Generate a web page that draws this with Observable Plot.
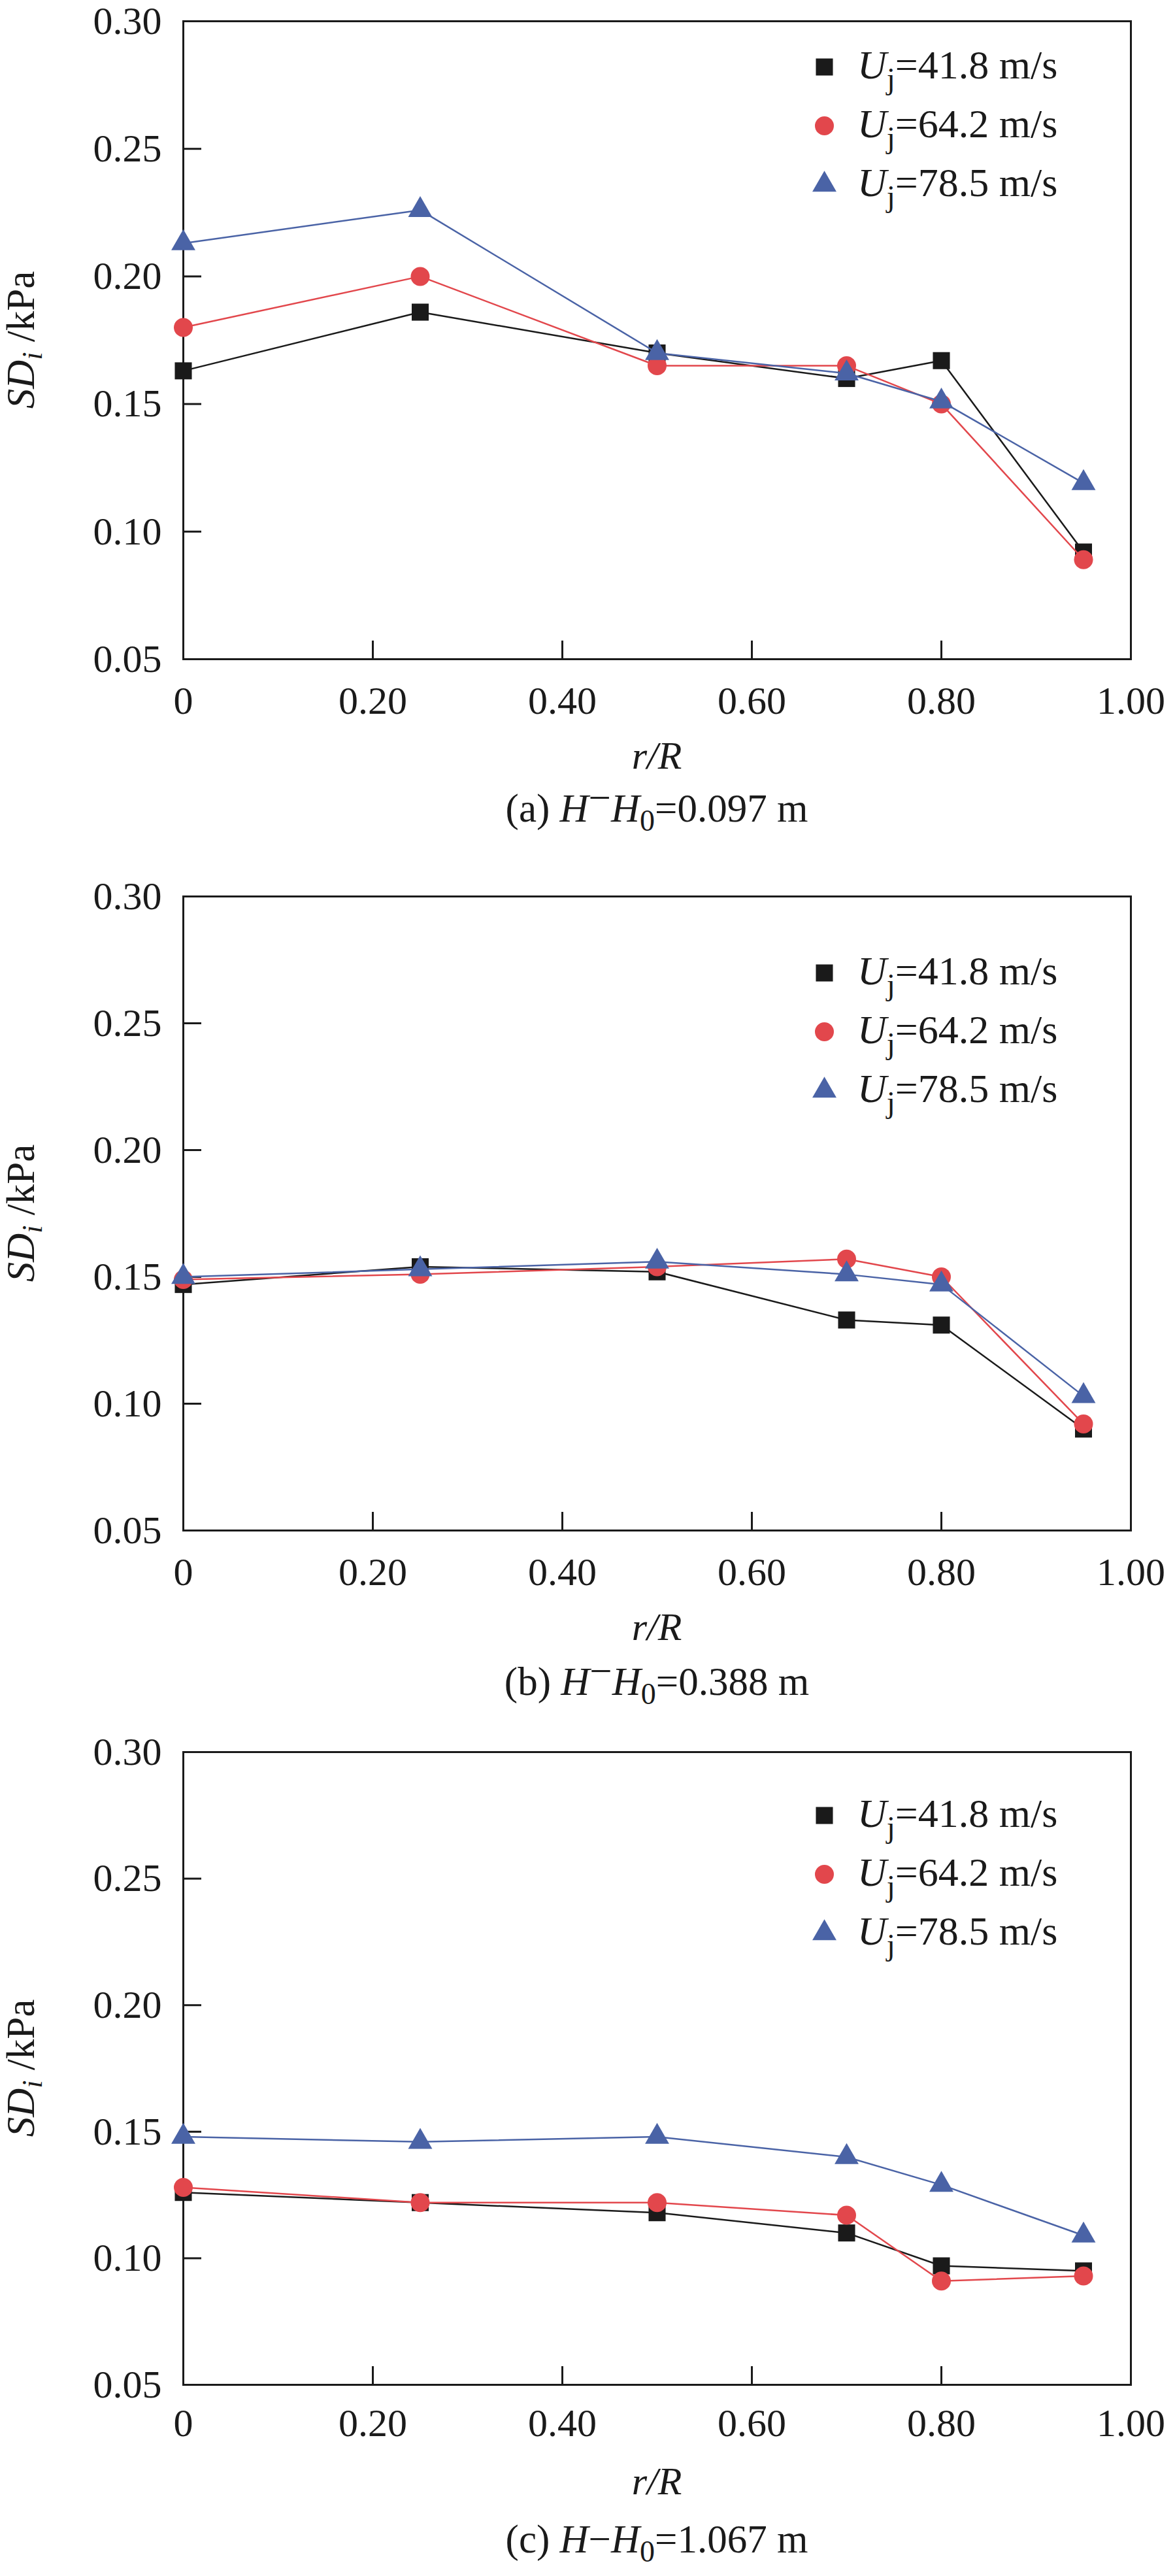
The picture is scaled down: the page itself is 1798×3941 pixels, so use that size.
<!DOCTYPE html>
<html>
<head>
<meta charset="utf-8">
<script src="https://cdn.jsdelivr.net/npm/d3@7"></script>
<script src="https://cdn.jsdelivr.net/npm/@observablehq/plot@0.6"></script>
<style>
  html, body { margin: 0; padding: 0; background: #ffffff; overflow: hidden; }
  #figure { width: 1798px; }
  #figure svg { display: block; max-width: none !important; }
</style>
</head>
<body>
<div id="figure"></div>
<script>
// ---------------- data ----------------
const rR = [0, 0.25, 0.5, 0.7, 0.8, 0.95];
const speeds = ["41.8", "64.2", "78.5"];
const xTicks = [0, 0.2, 0.4, 0.6, 0.8, 1.0];
const yTicks = [0.05, 0.10, 0.15, 0.20, 0.25, 0.30];

// panel (a) H−H0 = 0.097 m
const a_u418 = [0.163, 0.186, 0.170, 0.160, 0.167, 0.092];
const a_u642 = [0.180, 0.200, 0.165, 0.165, 0.150, 0.089];
const a_u785 = [0.213, 0.226, 0.170, 0.162, 0.151, 0.119];
// panel (b) H−H0 = 0.388 m
const b_u418 = [0.147, 0.154, 0.152, 0.133, 0.131, 0.090];
const b_u642 = [0.149, 0.151, 0.154, 0.157, 0.150, 0.092];
const b_u785 = [0.150, 0.153, 0.156, 0.151, 0.147, 0.103];
// panel (c) H−H0 = 1.067 m
const c_u418 = [0.126, 0.122, 0.118, 0.110, 0.097, 0.095];
const c_u642 = [0.128, 0.122, 0.122, 0.117, 0.091, 0.093];
const c_u785 = [0.148, 0.146, 0.148, 0.140, 0.129, 0.109];

const captionTags = ["(a)", "(b)", "(c)"];
const captionValues = ["0.097", "0.388", "1.067"];

// ---------------- styles / layout ----------------
const W = 1798;
const ML = 280, MR = 68;
const ink = "#1a1a1a";
const colors = ["#1a1a1a", "#e2474c", "#4a63a6"];
const symbols = ["square", "circle", "triangle"];
const radii = [14.7, 14.5, 13.7];
const FONT = "'Liberation Serif', 'Times New Roman', serif";
const FS = 60;

const panels = [
  {values: [a_u418, a_u642, a_u785], svgH: 1310, top: 32, bottom: 302, legendTop: 70, raisedMinus: true, tickPad: 41, capY: 249},
  {values: [b_u418, b_u642, b_u785], svgH: 1310, top: 61, bottom: 279, legendTop: 117, raisedMinus: true, tickPad: 41, capY: 252},
  {values: [c_u418, c_u642, c_u785], svgH: 1321, top: 60, bottom: 293, legendTop: 97, raisedMinus: false, tickPad: 36, capY: 257}
];

function addRichText(svg, attrs, parts, fs = FS) {
  const t = svg.append("text")
    .attr("font-family", FONT)
    .attr("font-size", fs)
    .attr("fill", ink)
    .attr("text-anchor", "start");
  for (const [k, v] of Object.entries(attrs)) t.attr(k, v);
  for (const p of parts) {
    const ts = t.append("tspan").text(p.t);
    if (p.italic) ts.attr("font-style", "italic");
    if (p.size) ts.attr("font-size", p.size);
    if (p.dy) ts.attr("dy", p.dy);
  }
  return t;
}

const fig = document.getElementById("figure");

panels.forEach((p, i) => {
  const frameH = p.svgH - p.top - p.bottom;
  const frameW = W - ML - MR;

  const marks = [
    Plot.frame({stroke: ink, strokeWidth: 3}),
    Plot.ruleX(xTicks.filter(t => t > 0 && t < 1), {stroke: ink, strokeWidth: 3, insetTop: frameH - 28}),
    Plot.ruleY(yTicks.filter(t => t > 0.05 && t < 0.3), {stroke: ink, strokeWidth: 3, insetRight: frameW - 28}),
    Plot.axisX(xTicks, {
      tickSize: 0, tickPadding: p.tickPad, label: null, fontSize: FS, fill: ink,
      tickFormat: d => d === 0 ? "0" : d.toFixed(2)
    }),
    Plot.axisY(yTicks, {
      tickSize: 0, tickPadding: 33, label: null, fontSize: FS, fill: ink,
      tickFormat: d => d.toFixed(2)
    })
  ];

  p.values.forEach((vals, s) => {
    const rows = vals.map((v, k) => ({r: rR[k], sd: v}));
    marks.push(Plot.line(rows, {x: "r", y: "sd", stroke: colors[s], strokeWidth: 2.5}));
    marks.push(Plot.dot(rows, {x: "r", y: "sd", symbol: symbols[s], r: radii[s], fill: colors[s], stroke: "none"}));
    // legend marker
    marks.push(Plot.dot([s], {
      frameAnchor: "top-left", dx: 981, dy: p.legendTop + 90 * s,
      symbol: symbols[s], r: radii[s], fill: colors[s], stroke: "none"
    }));
  });

  const chart = Plot.plot({
    width: W,
    height: p.svgH,
    marginLeft: ML,
    marginRight: MR,
    marginTop: p.top,
    marginBottom: p.bottom,
    style: {fontFamily: FONT, fontSize: FS + "px", color: ink, background: "#ffffff", overflow: "visible", maxWidth: "none"},
    x: {domain: [0, 1]},
    y: {domain: [0.05, 0.30]},
    marks
  });

  const svg = d3.select(chart);
  const frameBottom = p.svgH - p.bottom;
  const cx = ML + frameW / 2;
  const cy = p.top + frameH / 2;

  // y label
  addRichText(svg, {"text-anchor": "middle", transform: `translate(52,${cy}) rotate(-90)`}, [
    {t: "SD", italic: true},
    {t: "i", italic: true, size: 44, dy: 12},
    {t: " /kPa", dy: -12}
  ], 61);

  // x label
  addRichText(svg, {"text-anchor": "middle", x: cx, y: frameBottom + 168}, [
    {t: "r", italic: true},
    {t: "/", italic: true},
    {t: "R", italic: true}
  ]);

  // caption
  const capParts = [
    {t: captionTags[i] + " "},
    {t: "H", italic: true}
  ];
  if (p.raisedMinus) {
    capParts.push({t: "−", dy: -16});
    capParts.push({t: "H", italic: true, dy: 16});
  } else {
    capParts.push({t: "−"});
    capParts.push({t: "H", italic: true});
  }
  capParts.push({t: "0", size: 46, dy: 14});
  capParts.push({t: "=" + captionValues[i] + " m", dy: -14});
  addRichText(svg, {"text-anchor": "middle", x: cx, y: frameBottom + p.capY}, capParts, 61);

  // legend labels
  speeds.forEach((sp, s) => {
    addRichText(svg, {"text-anchor": "start", x: ML + 1032, y: p.top + p.legendTop + 90 * s + 18}, [
      {t: "U", italic: true},
      {t: "j", size: 47, dy: 16},
      {t: "=" + sp + " m/s", dy: -16}
    ], 62);
  });

  fig.appendChild(chart);
});
</script>
</body>
</html>
